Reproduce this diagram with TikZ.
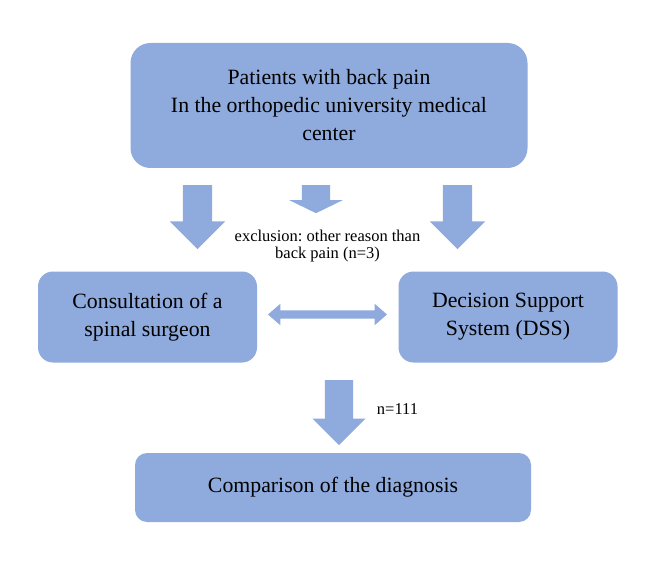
\documentclass[tikz,border=0pt]{standalone}
\usepackage{fontspec}
\setmainfont{Liberation Serif}
\usetikzlibrary{shapes.arrows}
\definecolor{boxblue}{RGB}{143,170,220}
\frenchspacing

\begin{document}
\begin{tikzpicture}[x=1pt,y=-1pt]
			\tikzstyle{box} = [fill=boxblue,align=center,font=\fontsize{21.8}{28}\selectfont];
			\tikzstyle{blockarrow} = [single arrow,fill=boxblue,rotate=-90,anchor=tail,inner xsep=1pt,inner ysep=14.5pt,single arrow head extend=13pt,minimum height=64pt];
			\tikzstyle{note} = [align=center,font=\fontsize{16.5}{17}\selectfont];
			\useasboundingbox (0,0) rectangle (657,586);
			\node[box,rounded corners=20pt,minimum width=397pt,minimum height=125pt] (patients) at (329,105.5) {Patients with back pain\\In the orthopedic university medical\\center};
			\node[box,rounded corners=15pt,minimum width=219pt,minimum height=91pt] (surgeon) at (147.5,317) {Consultation of a\\spinal surgeon};
			\node[box,rounded corners=15pt,minimum width=219pt,minimum height=91pt] (dss) at (508,317) {Decision Support\\System (DSS)};
			\node[box,rounded corners=12pt,minimum width=396pt,minimum height=69pt] (comparison) at (333,487.5) {Comparison of the diagnosis};
			\node[blockarrow] (tosurgeon) at (197.5,185) {};
			\node[blockarrow,inner ysep=14pt,single arrow head extend=12.5pt,single arrow tip angle=128,minimum height=28pt] (excluded) at (316,185) {};
			\node[blockarrow] (todss) at (457.5,185) {};
			\node[blockarrow,inner ysep=14pt,single arrow head extend=12.5pt,minimum height=65pt] (tocomparison) at (339,380) {};
			\node[double arrow,fill=boxblue,inner sep=4pt,double arrow head extend=6.5pt,double arrow tip angle=82,minimum height=119pt] (link) at (327.5,314.5) {};
			\node[note] (exclusion) at (327.5,246) {exclusion: other reason than\\back pain (n=3)};
			\node[note] (count) at (397.5,409) {n=111};
\end{tikzpicture}
\end{document}
